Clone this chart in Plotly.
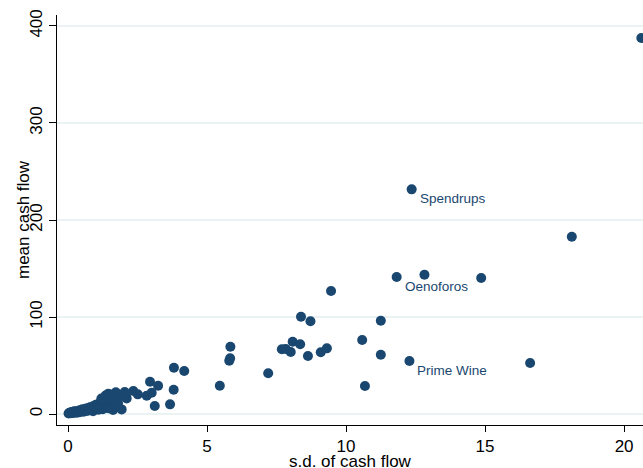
import plotly.graph_objects as go

# s.d. of cash flow (x) and mean cash flow (y)
sd_cash_flow = [
    0.02, 0.05, 0.10, 0.12, 0.15, 0.20, 0.22, 0.25, 0.30, 0.32, 0.35, 0.40, 0.42,
    0.45, 0.50, 0.52, 0.55, 0.60, 0.62, 0.65, 0.70, 0.72, 0.75, 0.80, 0.85, 0.90,
    0.95, 1.00, 1.05, 1.10, 1.15, 1.20, 1.25, 1.30, 1.35, 1.40, 1.45, 1.50, 1.55,
    1.60, 1.62, 1.65, 1.70, 1.72, 1.80, 1.93, 2.04, 2.09, 2.35, 2.51, 2.83, 2.95,
    3.01, 3.12, 3.24, 3.67, 3.80, 3.81, 4.18, 5.46, 5.80, 5.83, 5.84, 7.20, 7.69,
    7.83, 8.01, 8.08, 8.35, 8.38, 8.63, 8.72, 9.09, 9.31, 9.46, 10.58, 10.68, 11.25,
    11.25, 11.82, 12.28, 12.36, 12.82, 14.86, 16.62, 18.12, 20.62,
    1.20, 1.35, 1.45, 1.25, 1.45, 0.90, 1.10, 1.75, 1.85, 1.57, 1.26, 2.11,
]
mean_cash_flow = [
    0.5, 1.2, 0.8, 2.0, 1.5, 1.0, 2.8, 2.2, 3.0, 1.4, 2.5, 3.6, 1.8,
    4.0, 3.2, 5.0, 2.4, 4.5, 2.8, 5.8, 4.8, 3.5, 6.5, 7.0, 5.5, 8.0,
    7.0, 9.5, 6.5, 10.5, 8.0, 12.5, 9.0, 14.0, 7.0, 12.0, 16.0, 10.5, 18.0,
    13.0, 4.1, 20.5, 13.7, 22.4, 11.0, 4.8, 22.7, 17.2, 23.7, 20.3, 18.9, 33.3,
    22.0, 8.2, 29.2, 10.0, 25.1, 47.7, 44.3, 29.2, 55.0, 57.4, 69.4, 42.0, 66.7,
    67.0, 63.9, 74.5, 71.9, 100.3, 59.8, 95.6, 63.6, 67.7, 126.8, 76.3, 28.9, 96.2,
    61.1, 141.2, 54.6, 231.6, 143.6, 140.2, 52.6, 182.8, 387.6,
    16.0, 19.0, 21.0, 5.0, 6.0, 3.0, 4.5, 16.0, 19.0, 16.0, 14.4, 16.0,
]

# labelled firms: (index in the arrays above, name)
label_index = [81, 79, 80]
label_text = ["Spendrups", "Oenoforos", "Prime Wine"]

x_ticks = [0, 5, 10, 15, 20]
y_ticks = [0, 100, 200, 300, 400]
x_title = "s.d. of cash flow"
y_title = "mean cash flow"

NAVY = "#1a476f"
FONT = "Liberation Sans, Arial, sans-serif"

fig = go.Figure()
fig.add_trace(go.Scatter(
    x=sd_cash_flow, y=mean_cash_flow, mode="markers",
    marker=dict(color=NAVY, size=10, line=dict(width=0)),
    showlegend=False, hoverinfo="x+y",
))

for i, name in zip(label_index, label_text):
    fig.add_annotation(
        x=sd_cash_flow[i], y=mean_cash_flow[i], text=name, showarrow=False,
        xanchor="left", yanchor="middle", xshift=6, yshift=-9,
        font=dict(family=FONT, size=13.5, color=NAVY),
    )

# axis titles
fig.add_annotation(
    xref="paper", yref="paper", x=0.5, y=-0.088, text=x_title, showarrow=False,
    xanchor="center", yanchor="middle", font=dict(family=FONT, size=17, color="black"),
)
fig.add_annotation(
    xref="paper", yref="paper", x=-0.058, y=0.5, text=y_title, showarrow=False,
    textangle=-90, xanchor="center", yanchor="middle",
    font=dict(family=FONT, size=17, color="black"),
)

fig.update_layout(
    width=643, height=468,
    margin=dict(l=57, r=0, t=15, b=43, autoexpand=False),
    paper_bgcolor="white", plot_bgcolor="white",
    font=dict(family=FONT, size=17, color="black"),
)
fig.update_xaxes(
    range=[-0.396, 20.68], tickvals=x_ticks, showgrid=False, zeroline=False,
    showline=True, linecolor="black", linewidth=1, automargin=False,
    ticks="outside", ticklen=6, tickcolor="black",
    tickfont=dict(size=17),
)
fig.update_yaxes(
    range=[-11.3, 411.3], tickvals=y_ticks, showgrid=True, gridcolor="#eaf2f3",
    gridwidth=2, zeroline=False, automargin=False,
    showline=True, linecolor="black", linewidth=1,
    ticks="outside", ticklen=7, tickcolor="black",
    tickangle=-90, tickfont=dict(size=17),
)

fig.write_html(
    "out.html",
    config={"displayModeBar": False},
    post_script="document.body.style.margin='0';document.body.style.overflow='hidden';",
)
